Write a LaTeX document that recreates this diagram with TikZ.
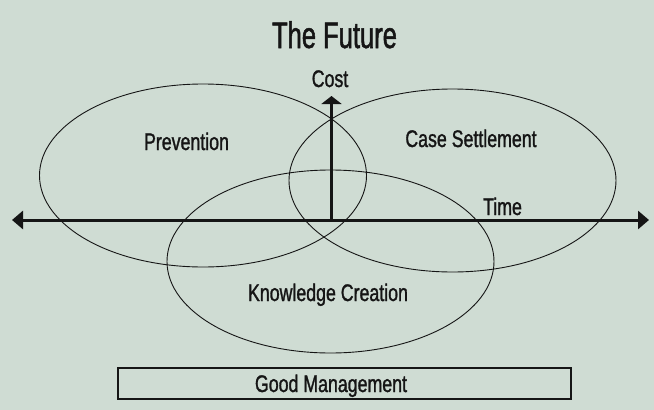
\documentclass[tikz,border=0pt]{standalone}
\usepackage{fontspec}
\usetikzlibrary{arrows.meta,shapes.geometric}
\newfontfamily\labelfont[FakeStretch=0.74,FakeBold=1.2]{Liberation Sans}
\newfontfamily\headfont[FakeStretch=0.69,FakeBold=1.4]{Liberation Sans}
\definecolor{sage}{HTML}{CFDCD3}
\definecolor{ink}{HTML}{151515}
\begin{document}
\begin{tikzpicture}[x=1pt,y=-1pt,
  ring/.style={draw=ink,line width=0.9pt,ellipse,minimum width=327pt,minimum height=183pt,inner sep=0pt},
  lbl/.style={text=ink,anchor=base,inner sep=0pt,font=\labelfont\fontsize{24}{24}\selectfont},
  axis/.style={draw=ink,line width=3pt},
  htips/.style={{Triangle[width=18pt,length=11pt]}-{Triangle[width=18pt,length=11pt]}},
  vtip/.style={-{Triangle[width=20pt,length=8pt]}}]
  % canvas
  \fill[sage] (0,0) rectangle (654,410);
  \useasboundingbox (0,0) rectangle (654,410);

  % title
  \node[text=ink,anchor=base,inner sep=0pt,font=\headfont\fontsize{37}{37}\selectfont] (title) at (334.5,48) {The Future};

  % three overlapping areas
  \node[ring] (prev) at (203,175.5) {};
  \node[ring] (case) at (452.5,180.5) {};
  \node[ring] (know) at (330.5,261.5) {};

  % axes
  \coordinate (origin) at (331.5,220);
  \coordinate (west) at (12,220);
  \coordinate (east) at (649,220);
  \coordinate (north) at (331.5,96);
  \draw[axis,htips] (west) -- (east);
  \draw[axis,vtip] (origin) -- (north);

  % labels
  \node[lbl] (cost) at (330,87) {Cost};
  \node[lbl] (time) at (502.5,215) {Time};
  \node[lbl] (prevl) at (186.5,150) {Prevention};
  \node[lbl] (casel) at (471,147) {Case Settlement};
  \node[lbl] (knowl) at (328,301) {Knowledge Creation};

  % base bar
  \node[draw=ink,line width=1.3pt,minimum width=453pt,minimum height=31pt,inner sep=0pt] (bar) at (344.5,383.5) {};
  \node[lbl] (barl) at (331,392) {Good Management};
\end{tikzpicture}
\end{document}
